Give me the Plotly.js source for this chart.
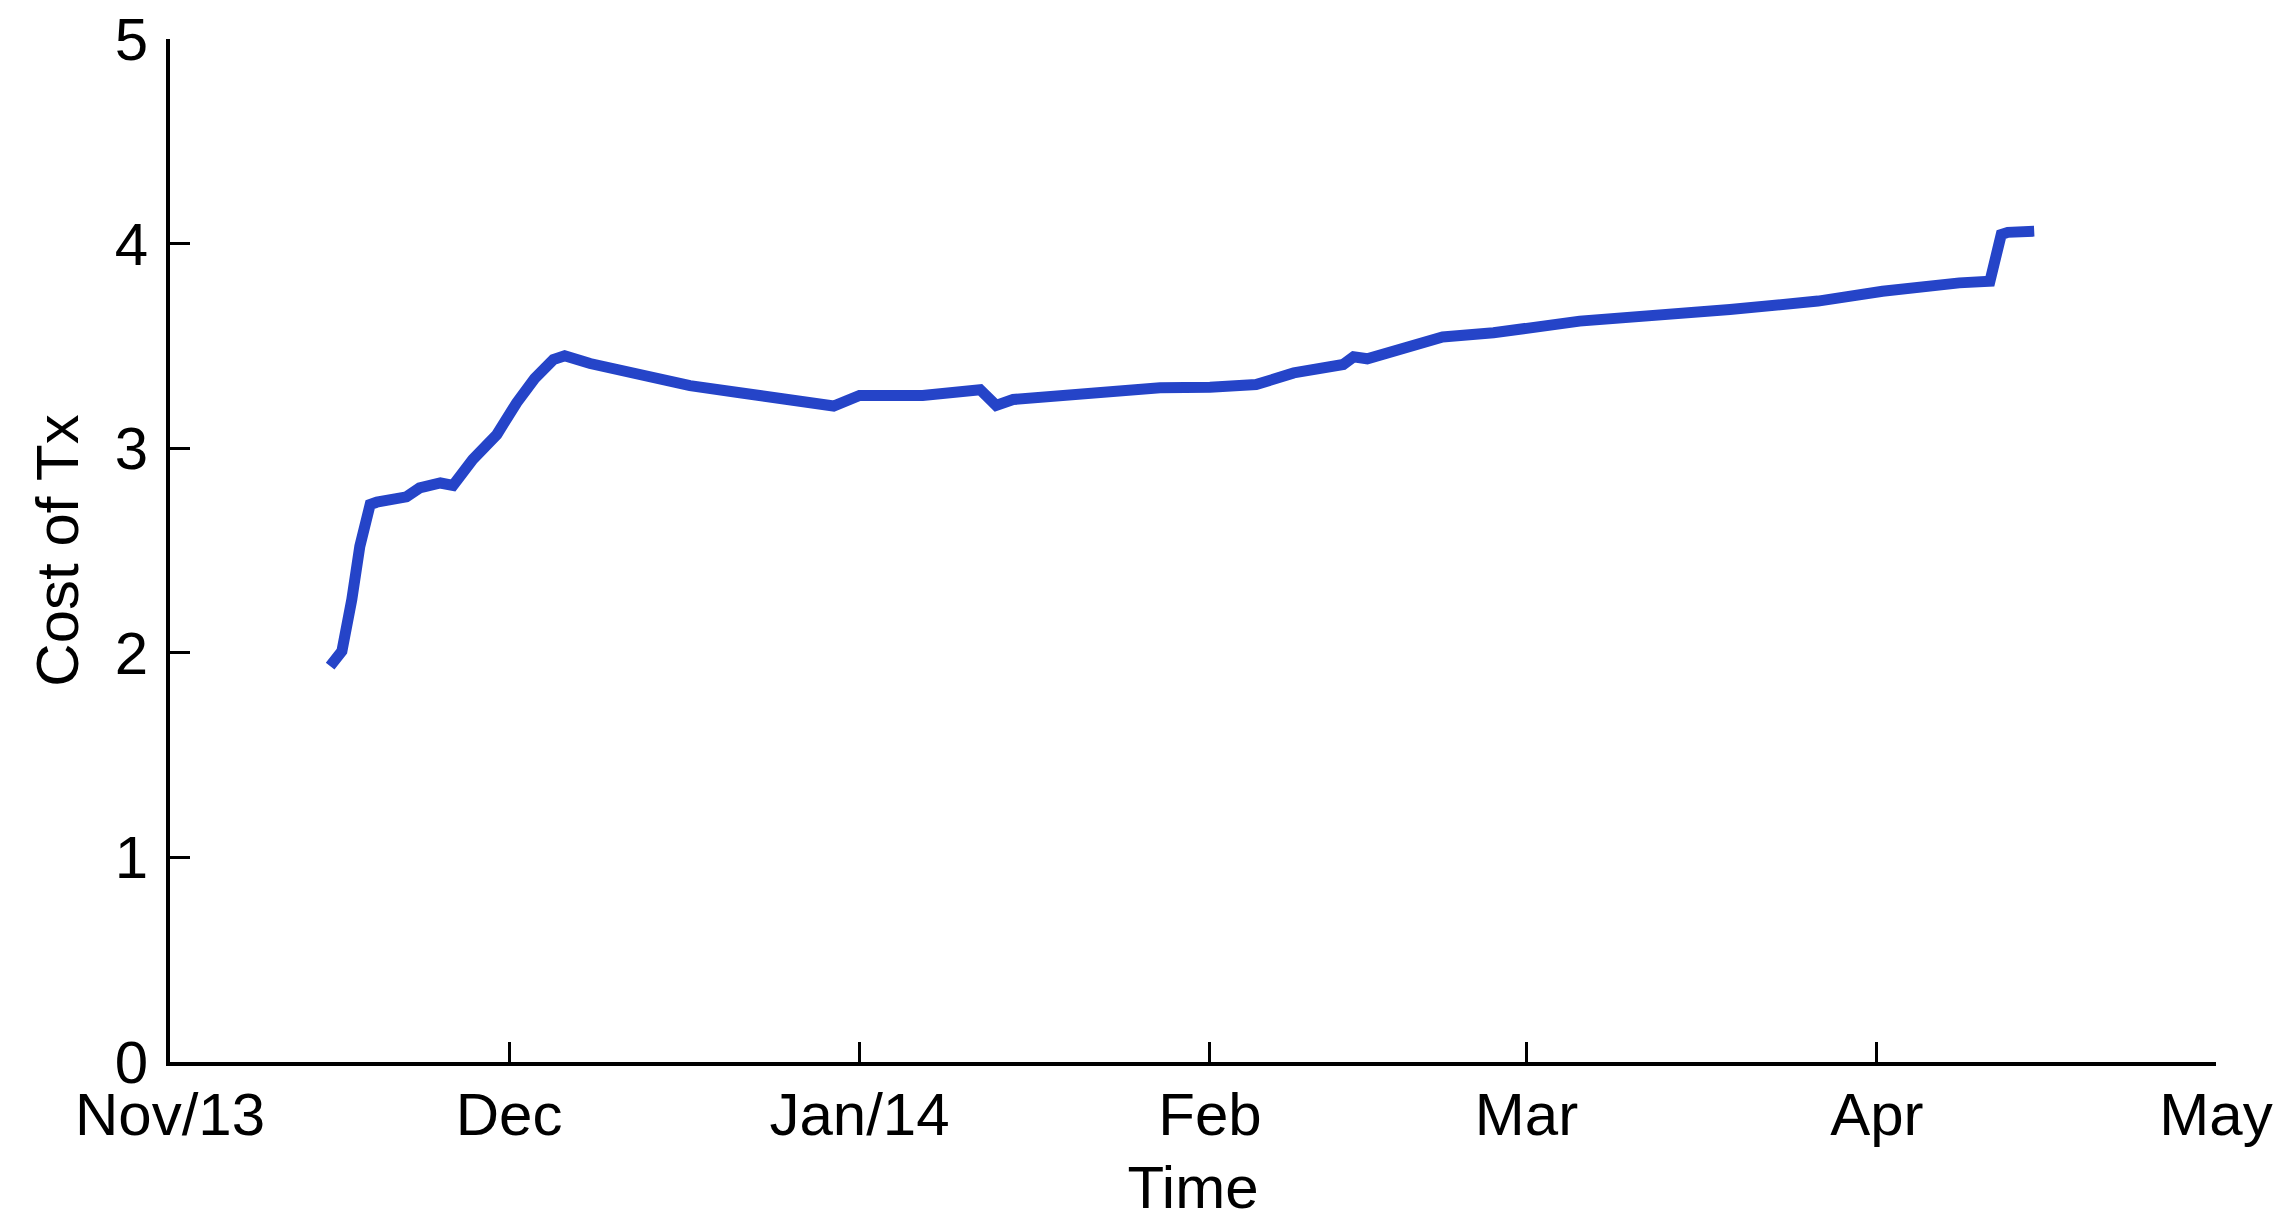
<!DOCTYPE html>
<html>
<head>
<meta charset="utf-8">
<script src="https://cdn.plot.ly/plotly-3.0.1.min.js"></script>
<style>
html,body{margin:0;padding:0;background:#fff;}
#chart{width:2291px;height:1228px;}
</style>
</head>
<body>
<div id="chart"></div>
<script>
// Data
const dates = [
  '2013-11-15 04:00','2013-11-16 05:00','2013-11-17 02:00','2013-11-17 19:00','2013-11-18 17:00',
  '2013-11-19 07:00','2013-11-21 22:00','2013-11-23 02:00','2013-11-24 22:00','2013-11-26 01:00',
  '2013-11-27 19:00','2013-11-29 22:00','2013-12-01 16:00','2013-12-03 06:00','2013-12-04 22:00',
  '2013-12-05 22:00','2013-12-08 04:00','2013-12-12 14:00','2013-12-17 00:00','2013-12-21 10:00',
  '2013-12-25 20:00','2013-12-29 17:00','2014-01-01 00:00','2014-01-06 14:00','2014-01-11 16:00',
  '2014-01-13 02:00','2014-01-14 14:00','2014-01-18 17:00','2014-01-23 05:00','2014-01-27 14:00',
  '2014-02-01 00:00','2014-02-05 02:00','2014-02-08 10:00','2014-02-12 19:00','2014-02-13 17:00',
  '2014-02-14 22:00','2014-02-21 14:00','2014-02-26 02:00','2014-03-05 17:00','2014-03-12 05:00',
  '2014-03-19 00:00','2014-03-26 19:00','2014-04-01 12:00','2014-04-08 07:00','2014-04-11 00:00',
  '2014-04-12 00:00','2014-04-12 14:00','2014-04-14 22:00'
];
const costOfTx = [
  1.935,2.008,2.26,2.52,2.725,
  2.736,2.762,2.806,2.83,2.818,
  2.945,3.067,3.222,3.34,3.433,
  3.452,3.414,3.355,3.306,3.271,
  3.241,3.206,3.258,3.258,3.286,
  3.209,3.238,3.26,3.284,3.295,
  3.298,3.311,3.368,3.409,3.447,
  3.437,3.544,3.564,3.621,3.645,
  3.678,3.719,3.767,3.808,3.816,
  4.044,4.055,4.061
];
const xTickVals = ['2013-11-01','2013-12-01','2014-01-01','2014-02-01','2014-03-01','2014-04-01','2014-05-01'];
const xTickText = ['Nov/13','Dec','Jan/14','Feb','Mar','Apr','May'];
const yTickVals = [0,1,2,3,4,5];

const FONT = 'Liberation Sans, Arial, Helvetica, sans-serif';

const trace = {
  x: dates,
  y: costOfTx,
  type: 'scatter',
  mode: 'lines',
  line: {color: '#2544c8', width: 11},
  hoverinfo: 'skip'
};

const layout = {
  width: 2291,
  height: 1228,
  paper_bgcolor: '#ffffff',
  plot_bgcolor: '#ffffff',
  margin: {l: 170, r: 75, t: 39, b: 166, pad: 0},
  showlegend: false,
  font: {family: FONT, size: 60, color: '#000'},
  xaxis: {
    type: 'date',
    range: ['2013-11-01', '2014-05-01'],
    tickmode: 'array',
    tickvals: xTickVals,
    ticktext: xTickText,
    ticks: 'inside',
    ticklen: 20,
    tickwidth: 3,
    tickcolor: '#000',
    showline: true,
    linewidth: 4,
    linecolor: '#000',
    showgrid: false,
    zeroline: false,
    mirror: false,
    automargin: false,
    tickfont: {family: FONT, size: 60, color: '#000'},
    ticklabelstandoff: -3,
    title: {text: 'Time', font: {family: FONT, size: 60, color: '#000'}, standoff: 20}
  },
  yaxis: {
    range: [0, 5],
    tickmode: 'array',
    tickvals: yTickVals,
    ticks: 'inside',
    ticklen: 20,
    tickwidth: 3,
    tickcolor: '#000',
    showline: true,
    linewidth: 4,
    linecolor: '#000',
    showgrid: false,
    zeroline: false,
    mirror: false,
    automargin: false,
    tickfont: {family: FONT, size: 60, color: '#000'},
    ticklabelstandoff: 6,
    title: {text: 'Cost of Tx', font: {family: FONT, size: 60, color: '#000'}, standoff: 18}
  }
};

Plotly.newPlot('chart', [trace], layout, {displayModeBar: false, staticPlot: true});
</script>
</body>
</html>
